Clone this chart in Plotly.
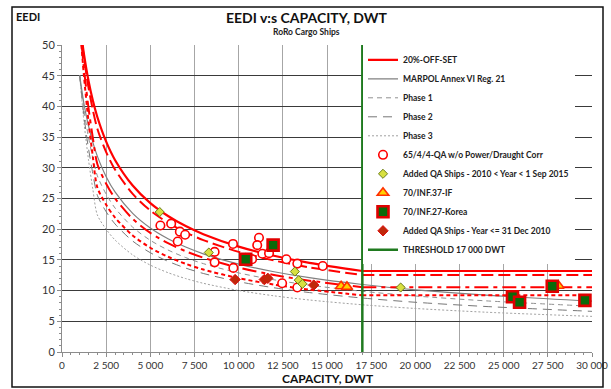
import plotly.graph_objects as go

# ---------------- data ----------------
GREY_DWT = [1000, 1250, 1500, 1750, 2000, 2500, 3000, 4000, 5000, 6000, 7000,
            8000, 10000, 12000, 14000, 17000, 20000, 24000, 30000]
MARPOL = [45.05, 40.31, 36.82, 34.09, 31.90, 28.55, 26.07, 22.59, 20.21, 18.46, 17.09,
          15.99, 14.31, 13.07, 12.10, 10.99, 10.13, 9.26, 8.28]
PHASE1 = [45.05, 39.30, 34.98, 31.53, 28.71, 25.70, 23.46, 20.33, 18.19, 16.61, 15.38,
          14.39, 12.88, 11.76, 10.89, 9.89, 9.12, 8.33, 7.45]
PHASE2 = [45.05, 38.29, 33.14, 28.98, 25.52, 22.84, 20.86, 18.07, 16.17, 14.77, 13.67,
          12.79, 11.45, 10.46, 9.68, 8.79, 8.10, 7.41, 6.62]
PHASE3 = [45.05, 37.29, 31.30, 26.42, 22.33, 19.99, 18.25, 15.81, 14.15, 12.92, 11.96,
          11.19, 10.02, 9.15, 8.47, 7.69, 7.09, 6.48, 5.80]

RED_TAIL_DWT = [2000, 2500, 3000, 4000, 5000, 6000, 7000, 8000, 10000, 12000, 14000, 17000]
OFFSET_DWT = [1170, 1250, 1500, 1750] + RED_TAIL_DWT
OFFSET = [50.0, 48.37, 44.18, 40.91, 38.28, 34.26, 31.28, 27.11, 24.25, 22.15, 20.51,
          19.19, 17.17, 15.68, 14.52, 13.19]
RED_DASH_DWT = [1150, 1250, 1500, 1750] + RED_TAIL_DWT
RED_DASH = [50.0, 47.77, 43.08, 39.37, 36.37, 32.55, 29.72, 25.75, 23.04, 21.04, 19.48,
            18.23, 16.31, 14.90, 13.79, 12.53]
RED_DASHDOT_DWT = [1115, 1150, 1250, 1500, 1750] + RED_TAIL_DWT
RED_DASHDOT = [50.0, 48.91, 45.95, 39.77, 34.77, 30.62, 27.41, 25.03, 21.69, 19.40, 17.72,
               16.41, 15.35, 13.74, 12.55, 11.62, 10.55]
RED_DOT_DWT = [1100, 1150, 1250, 1500, 1750] + RED_TAIL_DWT
RED_DOT = [50.0, 48.16, 44.74, 37.56, 31.70, 26.80, 23.98, 21.90, 18.98, 16.98, 15.51,
           14.36, 13.43, 12.02, 10.98, 10.16, 9.23]
CAP_END_DWT = 30000

QA_X = [5570, 6180, 6670, 6970, 6550, 8640, 8640, 9680, 9700, 11150, 11050, 11340, 11720,
        10760, 12700, 13320, 14760, 12460, 13320]
QA_Y = [20.6, 20.9, 19.6, 19.1, 18.0, 16.3, 14.6, 17.6, 13.7, 18.6, 17.4, 16.0, 16.1,
        15.1, 15.1, 14.4, 14.0, 11.2, 10.5]

ADD15_X = [5530, 8310, 13180, 13400, 13610, 19170]
ADD15_Y = [22.8, 16.2, 13.1, 11.7, 11.1, 10.5]

INF37_X = [15800, 16130, 28100]
INF37_Y = [10.7, 10.6, 10.8]

KOREA_X = [11950, 10400, 25500, 25900, 27750, 29600]
KOREA_Y = [17.4, 15.1, 9.0, 8.1, 10.7, 8.4]

ADD10_X = [9800, 11450, 11650, 14250]
ADD10_Y = [11.8, 11.8, 12.0, 10.9]

THRESHOLD = 17000
Y_RANGE = [0, 50]

X_TICKS = [0, 2500, 5000, 7500, 10000, 12500, 15000, 17500, 20000, 22500, 25000, 27500, 30000]
X_TICKTEXT = ["0", "2 500", "5 000", "7 500", "10 000", "12 500", "15 000", "17 500",
              "20 000", "22 500", "25 000", "27 500", "30 000"]
Y_TICKS = [0, 5, 10, 15, 20, 25, 30, 35, 40, 45, 50]

FONT = "Lato"
RED = "#ff0000"

fig = go.Figure()

def line(x, y, name, color, width, dash, rank, show=True):
    fig.add_trace(go.Scatter(
        x=x, y=y, mode="lines", name=name, showlegend=show, legendrank=rank,
        line=dict(color=color, width=width, dash=dash, shape="spline", smoothing=0.8),
        hoverinfo="skip"))

# grey reference lines
line(GREY_DWT, PHASE3, "Phase 3", "#a0a0a0", 1, "2px,2px", 5)
line(GREY_DWT, PHASE2, "Phase 2", "#777777", 1, "9px,6px", 4)
line(GREY_DWT, PHASE1, "Phase 1", "#909090", 1, "5px,4px", 3)
line(GREY_DWT, MARPOL, "MARPOL Annex VI Reg. 21", "#808080", 1.2, "solid", 2)

# red offset lines (+ flat extension beyond threshold)
for xs, ys, dash, w in [(RED_DOT_DWT, RED_DOT, "4px,3px", 2),
                        (RED_DASHDOT_DWT, RED_DASHDOT, "14px,5px,4px,5px", 2),
                        (RED_DASH_DWT, RED_DASH, "12px,5px", 2)]:
    line(xs, ys, "", RED, w, dash, 100, show=False)
    fig.add_trace(go.Scatter(x=[xs[-1], CAP_END_DWT], y=[ys[-1], ys[-1]], mode="lines",
                             showlegend=False, line=dict(color=RED, width=w, dash=dash),
                             hoverinfo="skip"))
line(OFFSET_DWT, OFFSET, "20%-OFF-SET", RED, 2.2, "solid", 1)
fig.add_trace(go.Scatter(x=[OFFSET_DWT[-1], CAP_END_DWT], y=[OFFSET[-1], OFFSET[-1]],
                         mode="lines", showlegend=False,
                         line=dict(color=RED, width=2.2), hoverinfo="skip"))

# threshold
fig.add_trace(go.Scatter(x=[THRESHOLD, THRESHOLD], y=Y_RANGE, mode="lines",
                         name="THRESHOLD 17 000 DWT", legendrank=11,
                         line=dict(color="#1f7a1f", width=2.5), hoverinfo="skip"))

# markers
fig.add_trace(go.Scatter(x=QA_X, y=QA_Y, mode="markers", name="65/4/4-QA w/o Power/Draught Corr",
                         legendrank=6,
                         marker=dict(symbol="circle", size=8.5, color="white",
                                     line=dict(color=RED, width=1.6))))
fig.add_trace(go.Scatter(x=ADD10_X, y=ADD10_Y, mode="markers",
                         name="Added QA Ships - Year <= 31 Dec 2010", legendrank=10,
                         marker=dict(symbol="diamond", size=8, color="#c0280a",
                                     line=dict(color="#e01010", width=1))))
fig.add_trace(go.Scatter(x=INF37_X, y=INF37_Y, mode="markers", name="70/INF.37-IF",
                         legendrank=8,
                         marker=dict(symbol="triangle-up", size=10, color="#ffd000",
                                     line=dict(color="#ff3000", width=1.6))))
fig.add_trace(go.Scatter(x=KOREA_X, y=KOREA_Y, mode="markers", name="70/INF.27-Korea",
                         legendrank=9,
                         marker=dict(symbol="square", size=11, color="#0a6a0a",
                                     line=dict(color="#e00000", width=2.6))))
fig.add_trace(go.Scatter(x=ADD15_X, y=ADD15_Y, mode="markers",
                         name="Added QA Ships - 2010 < Year < 1 Sep 2015", legendrank=7,
                         marker=dict(symbol="diamond", size=7, color="#d8e040",
                                     line=dict(color="#6b7d1a", width=1))))

L, R, T, B = 62, 19, 45, 37
W, H = 611, 389
pw, ph = W - L - R, H - T - B

def px(xp):
    return (xp - L) / pw

def py(yp):
    return (H - B - yp) / ph

fig.update_layout(
    width=W, height=H, margin=dict(l=L, r=R, t=T, b=B, autoexpand=False),
    paper_bgcolor="white", plot_bgcolor="white",
    font=dict(family=FONT, size=10, color="#333333"),
    showlegend=True,
    legend=dict(x=px(363), y=0.999, xanchor="left", yanchor="top",
                bgcolor="white", borderwidth=0, traceorder="normal",
                font=dict(family=FONT, size=8.5, color="#222222", weight="bold"),
                itemwidth=30, tracegroupgap=0),
    xaxis=dict(range=[0, 30000], tickvals=X_TICKS, ticktext=X_TICKTEXT, automargin=False,
               showgrid=True, gridcolor="#a6a6a6", gridwidth=1,
               showline=True, linecolor="#8c8c8c", zeroline=False,
               ticks="outside", ticklen=4, tickcolor="#8c8c8c",
               minor=dict(dtick=500, ticks="outside", ticklen=2, tickcolor="#8c8c8c",
                          showgrid=False),
               tickfont=dict(family=FONT, size=10, color="#333333")),
    yaxis=dict(range=Y_RANGE, tickvals=Y_TICKS, automargin=False,
               showgrid=True, gridcolor="#3a3a3a", gridwidth=1,
               showline=True, linecolor="#8c8c8c", zeroline=False,
               ticks="outside", ticklen=4, tickcolor="#8c8c8c",
               minor=dict(dtick=1, ticks="outside", ticklen=2, tickcolor="#8c8c8c",
                          showgrid=False),
               tickfont=dict(family=FONT, size=11, color="#333333")),
    annotations=[
        dict(text="<b>EEDI v:s CAPACITY, DWT</b>", x=px(306), y=py(18), xref="paper",
             yref="paper", showarrow=False, font=dict(family=FONT, size=14, color="#111111"),
             xanchor="center", yanchor="middle"),
        dict(text="<b>RoRo Cargo Ships</b>", x=px(306), y=py(32), xref="paper",
             yref="paper", showarrow=False, font=dict(family=FONT, size=8.5, color="#222222"),
             xanchor="center", yanchor="middle"),
        dict(text="<b>EEDI</b>", x=px(14), y=py(17), xref="paper", yref="paper",
             showarrow=False, font=dict(family=FONT, size=11, color="#111111"),
             xanchor="left", yanchor="middle"),
        dict(text="<b>CAPACITY, DWT</b>", x=px(328), y=py(378), xref="paper", yref="paper",
             showarrow=False, font=dict(family=FONT, size=12, color="#111111"),
             xanchor="center", yanchor="middle"),
    ],
    shapes=[dict(type="rect", xref="paper", yref="paper", x0=px(12), x1=px(603),
                 y0=py(387), y1=py(7), line=dict(color="#111111", width=1.5),
                 fillcolor="rgba(0,0,0,0)", layer="above")],
)

fig.write_html("out.html", config={"displayModeBar": False},
               post_script="document.body.style.margin='0px';document.body.style.overflow='hidden';")
